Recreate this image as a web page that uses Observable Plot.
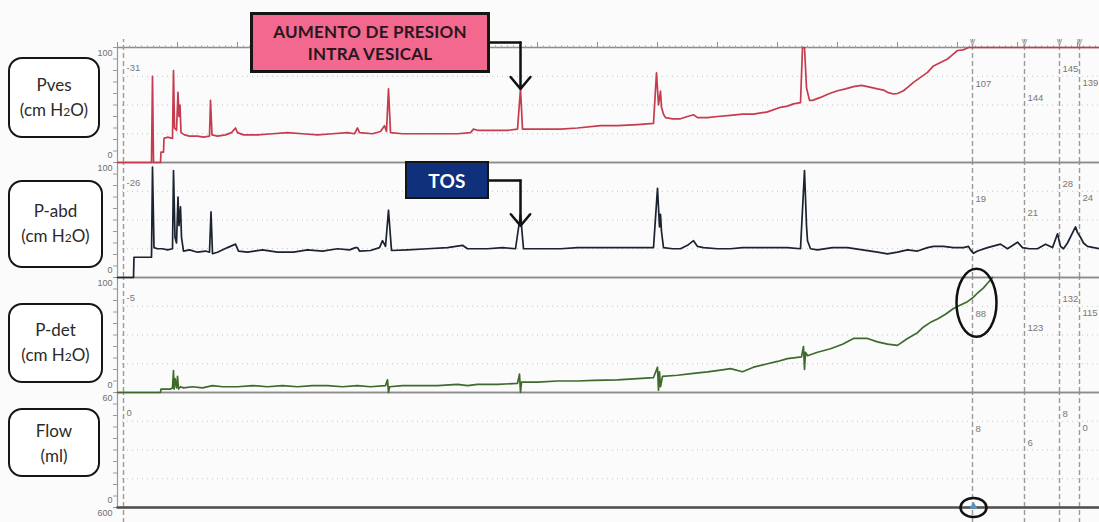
<!DOCTYPE html>
<html><head><meta charset="utf-8">
<script src="https://cdn.jsdelivr.net/npm/d3@7"></script>
<script src="https://cdn.jsdelivr.net/npm/@observablehq/plot@0.6"></script>
<style>
html,body{margin:0;padding:0;background:#fbfbfb;}
#wrap{position:relative;width:1099px;height:522px;overflow:hidden;font-family:"Lato","Open Sans",sans-serif;}
#chart{position:absolute;left:0;top:0;}
.lab{position:absolute;box-sizing:border-box;background:#fff;border:2.5px solid #151515;border-radius:14px;display:flex;flex-direction:column;justify-content:center;align-items:center;font-size:17px;line-height:25px;color:#2a2a2a;}
.lab small{font-size:12px;}
.note{position:absolute;box-sizing:border-box;border:3px solid #151515;display:flex;flex-direction:column;justify-content:center;align-items:center;font-weight:700;letter-spacing:0.2px;}
</style></head>
<body><div id="wrap"><div id="chart"></div></div>
<script>
// ---------- data ----------
const panels = ["Pves", "P-abd", "P-det", "Flow"];
const panelUnits = ["(cm H<small>2</small>O)", "(cm H<small>2</small>O)", "(cm H<small>2</small>O)", "(ml)"];
const panelMax = [100, 100, 100, 60];
const topTickLabels = ["100", "100", "100", "60"];
const bottomTickLabels = ["0", "0", "0", "0"];
const belowLabel = "600";

// cursor times (s) and read-outs per panel
const cursorTimes = [6, 855, 907, 942, 962];
const readPves = ["-31", "107", "144", "145", "139"];
const readPabd = ["-26", "19", "21", "28", "24"];
const readPdet = ["-5", "88", "123", "132", "115"];
const readFlow = ["0", "8", "6", "8", "0"];

// traces [t, value]
const pves = [[0,0],[34,0],[35,75],[36,0],[43,0],[43.5,9],[46,9],[46.5,21],[50,22],[55,21],[56,80],[57,30],[59,28],[60.5,61],[61.5,40],[62.5,50],[63.5,26],[67,24],[72,23],[80,23],[86,22],[92,23],[93,54],[94.5,24],[100,23],[108,24],[114,26],[118,30],[120,26],[126,24],[140,24],[155,25],[170,26],[185,25],[200,24],[215,25],[230,26],[237,25],[240,30],[242,26],[255,25],[263,27],[267,32],[269,27],[271,64],[273,26],[285,25],[300,25],[320,25],[340,25],[353,26],[356,29],[360,28],[375,28],[390,28],[400,29],[403,64],[405,29],[420,29],[443,29],[460,30],[483,32],[500,32],[520,33],[536,34],[539,78],[541,50],[543,62],[544,48],[546,42],[548,39],[555,38],[563,38],[570,40],[576,41.5],[580,39],[590,39],[600,40],[613,41],[625,42],[636,42],[650,44],[663,48],[670,49],[676,51],[683,52],[685,100],[687,100],[689,65],[692,54],[695,54],[703,56.6],[712,60],[720,62.4],[728,64],[736,66],[744,67],[750,66],[760,64],[766,63],[770,61],[776,59.6],[780,60],[786,62.4],[791,66],[796,69.7],[803,74],[810,78.4],[816,84],[823,87],[830,90],[834,93],[840,97.4],[846,98],[851,100],[982,100]];
const pabd = [[0,0],[16,0],[16.5,17.6],[34,17.6],[35,96],[36.5,26],[40,25],[45,25],[50,24],[55,25],[56,93],[57.5,35],[59,30],[60.5,70],[61.5,45],[63,61.5],[64,35],[66,23],[72,24],[80,22],[88,23],[92,22],[93.5,57],[95,20.6],[100,22],[110,26],[118,29],[121,23],[130,22],[145,24],[160,22],[176,22],[190,24],[205,23],[220,25],[232,24],[238,26],[240,26],[242,23],[253,23.5],[262,26],[265,32],[268,27],[271,58.5],[274,23.5],[290,24],[310,25],[330,26],[345,28],[350,25],[370,25],[385,26],[398,25],[403,55],[406,25],[420,25],[443,25],[460,26],[483,26],[500,26],[520,26],[536,26],[540,77.5],[542,44],[543,55],[544,40],[546,26],[555,25],[563,25],[570,28],[576,32],[580,27],[586,26],[600,25],[613,25],[625,26],[640,26],[660,26],[670,26],[683,25],[687,93],[689,45],[690,32],[693,25],[700,24],[715,26],[730,26],[745,24],[760,22],[770,20.6],[780,22],[790,24],[800,23],[810,26],[816,27],[826,27],[836,26],[846,26],[851,27],[853,24],[856,21],[860,23],[870,26],[883,29],[890,25],[900,30.7],[905,26],[912,25],[920,25],[928,29],[935,26],[940,38],[943,27],[946,25],[950,30],[958,44],[960,39],[963,35],[966,30],[970,27],[982,25]];
const pdet = [[0,0],[43,0],[43.5,3],[53,3],[55,4],[56,19],[56.5,3],[57.5,12],[59,4],[60,14],[61,3],[63,5],[66,4],[75,5],[85,4],[95,6],[105,5],[120,5],[135,6],[150,5],[165,6],[180,5],[195,6],[210,6],[225,5],[240,6],[253,5],[268,6],[270,11],[271,0],[272,5],[285,6],[300,6],[320,6],[340,7],[350,6],[360,7],[380,7],[400,8],[402,16],[403,0],[404,9],[420,9],[440,10],[460,10],[476,10.5],[500,11],[520,12],[536,13],[540,22],[541,2],[542,18],[543,5],[545,14],[560,15],[576,16.7],[590,18],[603,19.5],[613,20.8],[625,18],[636,22],[650,25],[660,27],[670,29.5],[684,31],[686,40],[687,20],[688,35],[690,32],[700,35],[713,38],[725,42],[736,47],[750,47],[760,44],[770,42],[780,41],[790,47],[800,52],[806,57],[813,61],[820,64],[828,68],[836,73],[843,76],[850,79],[856,83],[860,86.5],[866,91],[870,95],[875,100]];
const flow = [[0,0],[982,0]];

const noteVesical = ["AUMENTO DE PRESION", "INTRA VESICAL"];
const noteTos = ["TOS"];
const eventTime = 403;  // cough spike

// ---------- layout (not data) ----------
const readLevels = [82, 68, 56, 81, 69];
const labelBoxes = [{l:8,t:57,w:92,h:81},{l:8,t:180,w:95,h:88},{l:8,t:303,w:95,h:80},{l:8,t:408,w:92,h:69}];

// ---------- build tables ----------
const series = [pves, pabd, pdet, flow];
const colors = ["#c43c4e", "#1b2230", "#3e6b2c", "#555"];
const rows = [];
series.forEach((s, i) => s.forEach(([t, v]) => rows.push({panel: panels[i], t, v: v * 100 / panelMax[i]})));
const reads = [readPves, readPabd, readPdet, readFlow];
const readRows = [];
reads.forEach((r, i) => r.forEach((txt, j) => readRows.push({panel: panels[i], t: cursorTimes[j], v: readLevels[j], txt})));
const cursorRows = [];
panels.forEach(p => cursorTimes.forEach(t => cursorRows.push({panel: p, t, y1: p === "Flow" ? -14 : 0, y2: p === "Pves" ? 107 : 100})));
const topRows = panels.map((p, i) => ({panel: p, v: 100, txt: topTickLabels[i]}));
const bottomRows = panels.map((p, i) => ({panel: p, v: 0, txt: bottomTickLabels[i]}));
const belowRows = [{panel: "Flow", v: 0, txt: belowLabel}];

const vesPeak = pves.find(d => d[0] === eventTime)[1];
const abdPeak = pabd.find(d => d[0] === eventTime)[1];
const elbows = [
  {id: "a", panel: "Pves", t: eventTime - 31, v: 104.3},
  {id: "a", panel: "Pves", t: eventTime, v: 104.3},
  {id: "b", panel: "P-abd", t: eventTime - 32, v: 84.3},
  {id: "b", panel: "P-abd", t: eventTime, v: 84.3}
];
const heads = [
  {panel: "Pves", t: eventTime, v1: 104.3, v2: vesPeak},
  {panel: "P-abd", t: eventTime, v1: 84.3, v2: abdPeak - 10}
];

function ellipse(rx, ry) {
  const k = 0.5523;
  return {draw(c) {
    c.moveTo(rx, 0);
    c.bezierCurveTo(rx, ry * k, rx * k, ry, 0, ry);
    c.bezierCurveTo(-rx * k, ry, -rx, ry * k, -rx, 0);
    c.bezierCurveTo(-rx, -ry * k, -rx * k, -ry, 0, -ry);
    c.bezierCurveTo(rx * k, -ry, rx, -ry * k, rx, 0);
    c.closePath();
  }};
}
const highlight = [{panel: "P-det", t: cursorTimes[1] + 4, v: 78}];
const highlightFlow = [{panel: "Flow", t: cursorTimes[1] + 1, v: 0}];

const tickText = {fy: "panel", y: "v", text: "txt", frameAnchor: "left", textAnchor: "end", dx: -5, fill: "#6f6f6f", fontSize: 9};

const chart = Plot.plot({
  width: 1099, height: 522,
  marginTop: 47, marginBottom: 15, marginLeft: 117, marginRight: 0,
  x: {domain: [0, 982], axis: null},
  y: {domain: [0, 100], axis: null},
  fy: {domain: panels, axis: null, padding: 0},
  color: {domain: panels, range: colors},
  style: {background: "transparent", fontFamily: "Liberation Sans, sans-serif"},
  marks: [
    Plot.ruleY([25, 50, 75], {stroke: "#c4c4c4", strokeDasharray: "1 4", strokeWidth: 1}),
    Plot.ruleX(cursorRows, {x: "t", fy: "panel", y1: "y1", y2: "y2", stroke: "#9a9a9a", strokeDasharray: "5 3", strokeWidth: 1.4}),
    Plot.ruleY([0, 100], {stroke: "#8c8c8c", strokeWidth: 1.6}),
    Plot.ruleX([0], {stroke: "#9a9a9a", strokeWidth: 1.2}),
    Plot.axisY({ticks: d3.range(0, 101, 10), tickSize: 4, tickFormat: () => "", label: null, stroke: "#9a9a9a"}),
    Plot.axisX({anchor: "top", ticks: d3.range(0, 983, 6), tickSize: 2.5, tickFormat: () => "", label: null, stroke: "#a0a0a0"}),
    Plot.axisX({anchor: "top", ticks: d3.range(0, 983, 60), tickSize: 6, tickFormat: () => "", label: null, stroke: "#909090"}),
    Plot.text(topRows, {...tickText, dy: 6}),
    Plot.text(bottomRows, {...tickText, dy: -7}),
    Plot.text(belowRows, {...tickText, dy: 6}),
    Plot.text(cursorTimes.slice(1), {x: d => d, fy: () => "Pves", frameAnchor: "top", dy: -10, text: () => "v", fill: "#9a9a9a", fontSize: 11}),
    Plot.text(readRows, {x: "t", y: "v", fy: "panel", text: "txt", textAnchor: "start", dx: 3, fill: "#777", fontSize: 9.5}),
    Plot.line(rows.filter(d => d.panel !== "Flow"), {x: "t", y: "v", fy: "panel", stroke: "panel", strokeWidth: 1.7, curve: "linear"}),
    Plot.line(rows.filter(d => d.panel === "Flow"), {x: "t", y: "v", fy: "panel", stroke: "#505050", strokeWidth: 2.6}),
    Plot.line(elbows, {x: "t", y: "v", fy: "panel", z: "id", stroke: "#111", strokeWidth: 2.5}),
    Plot.arrow(heads, {x: "t", y1: "v1", y2: "v2", fy: "panel", stroke: "#111", strokeWidth: 2.5, headLength: 13, headAngle: 80}),
    Plot.dot(highlight, {x: "t", y: "v", fy: "panel", symbol: ellipse(20, 34), r: 5, stroke: "#111", strokeWidth: 2.5, fill: "none"}),
    Plot.dot(highlightFlow, {x: "t", y: "v", fy: "panel", symbol: ellipse(13, 9.5), r: 5, stroke: "#111", strokeWidth: 2.5, fill: "none"}),
    Plot.dot(highlightFlow, {x: "t", y: "v", fy: "panel", symbol: "triangle", r: 3, fill: "#5a95c0", dy: -1})
  ]
});
document.getElementById("chart").appendChild(chart);

// ---------- HTML boxes ----------
const wrap = document.getElementById("wrap");
panels.forEach((p, i) => {
  const b = labelBoxes[i];
  const d = document.createElement("div");
  d.className = "lab";
  Object.assign(d.style, {left: b.l + "px", top: b.t + "px", width: b.w + "px", height: b.h + "px"});
  d.innerHTML = `<div>${p}</div><div>${panelUnits[i]}</div>`;
  wrap.appendChild(d);
});
const n1 = document.createElement("div");
n1.className = "note";
Object.assign(n1.style, {left: "250px", top: "12px", width: "240px", height: "61px", background: "#f2688f", color: "#2a161c", fontSize: "17px", lineHeight: "22px"});
n1.innerHTML = noteVesical.map(s => `<div>${s}</div>`).join("");
wrap.appendChild(n1);
const n2 = document.createElement("div");
n2.className = "note";
Object.assign(n2.style, {left: "405px", top: "161px", width: "84px", height: "38px", background: "#11307c", color: "#fff", fontSize: "19px", borderWidth: "2px"});
n2.innerHTML = noteTos.map(s => `<div>${s}</div>`).join("");
wrap.appendChild(n2);
</script></body></html>
